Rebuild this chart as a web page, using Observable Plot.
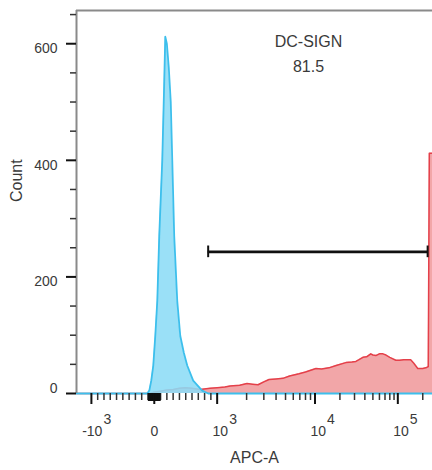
<!DOCTYPE html>
<html><head><meta charset="utf-8">
<script src="https://cdn.jsdelivr.net/npm/d3@7"></script>
<script src="https://cdn.jsdelivr.net/npm/@observablehq/plot@0.6"></script>
<style>html,body{margin:0;padding:0;background:#fff;overflow:hidden} #chart svg{display:block;font-family:"Liberation Sans",Arial,sans-serif}</style>
</head><body><div id="chart"></div>
<script>
// Control (isotype) histogram: APC-A value, count
const ctrlValue = [-1420, -111, -79, -48, -16, 16, 48, 79, 127, 155, 175, 200, 230, 262, 286, 317, 365, 413, 470, 524, 619, 762, 857, 262144];
const ctrlCount = [0, 0, 5, 22, 48, 99, 159, 270, 400, 520, 612, 600, 560, 500, 400, 270, 159, 99, 70, 48, 22, 5, 0, 0];
// DC-SIGN stained histogram
const sampleValue = [-1420, -63, -16, 95, 200, 302, 400, 492, 600, 730, 889, 1000, 1200, 1357, 1700, 2020, 2300, 2620, 3000, 3390, 4000, 4710, 5500, 6870, 8000, 10280, 12000, 14750, 18000, 23600, 28000, 31200, 34000, 37900, 42000, 47200, 50000, 54300, 60000, 66100, 72000, 80000, 94600, 105000, 118000, 130000, 143000, 156000, 174000, 200000, 218000, 233000, 240000, 262144];
const sampleCount = [0, 0, 2, 4, 6, 7, 9, 10, 9, 7, 9, 10, 11, 13, 14, 17, 16, 15, 20, 24, 25, 26, 30, 34, 37, 43, 42, 44, 48, 53, 54, 55, 58, 62, 63, 68, 66, 65, 68, 68, 66, 62, 57, 57, 58, 58, 58, 52, 43, 43, 44, 46, 412, 412];

const xMajorTicks = [-1000, 0, 1000, 10000, 100000];
const xTickBase = ["-10", "0", "10", "10", "10"];
const xTickExp = ["3", "", "3", "4", "5"];
const xMinorTicks = [-900, -800, -700, -600, -500, -400, -300, -200, -100,
  100, 200, 300, 400, 500, 600, 700, 800, 900,
  2000, 3000, 4000, 5000, 6000, 7000, 8000, 9000,
  20000, 30000, 40000, 50000, 60000, 70000, 80000, 90000, 200000];
const xNearZeroTicks = [-90, -80, -70, -60, -50, -40, -30, -20, -10, 10, 20, 30, 40, 50, 60, 70, 80, 90];
const yMajorTicks = [0, 200, 400, 600];
const yMinorTicks = [50, 100, 150, 250, 300, 350, 450, 500, 550, 650];
const xExtent = [-1420, 262144];
const yExtent = [0, 657];

const gateRange = [857, 229000];
const gateCount = 243;
const gateName = "DC-SIGN";
const gatePercent = "81.5";
const xLabel = "APC-A";
const yLabel = "Count";

// biexponential-style display transform (linear near zero, log beyond ±10^3)
function biex(v) {
  const a = Math.abs(v), s = Math.sign(v);
  let u;
  if (a <= 1000) u = a * 0.063;
  else if (a <= 10000) u = 63 + 98 * Math.log10(a / 1000);
  else u = 161 + 83 * Math.log10(a / 10000);
  return s * u;
}

const ctrl = ctrlValue.map((v, i) => ({v, c: ctrlCount[i]}));
const sample = sampleValue.map((v, i) => ({v, c: sampleCount[i]}));
const majors = xMajorTicks.map((v, i) => ({v, base: xTickBase[i], exp: xTickExp[i]}));
const txt = "#3a3a3a";

const chart = Plot.plot({
  width: 432,
  height: 470,
  marginLeft: 76,
  marginRight: 0,
  marginTop: 10,
  marginBottom: 77,
  style: {fontFamily: "'Liberation Sans', Arial, sans-serif", background: "#fff"},
  x: {type: "linear", domain: xExtent.map(biex)},
  y: {domain: yExtent},
  marks: [
    Plot.areaY(sample, {x: d => biex(d.v), y: "c", fill: "#f2a6a8"}),
    Plot.lineY(sample, {x: d => biex(d.v), y: "c", stroke: "#e4404a", strokeWidth: 1.5}),
    Plot.areaY(ctrl, {x: d => biex(d.v), y: "c", fill: "#8cdcf6", fillOpacity: 0.88}),
    Plot.lineY(ctrl, {x: d => biex(d.v), y: "c", stroke: "#3dbfec", strokeWidth: 1.8}),
    // gate
    Plot.ruleY([gateCount], {x1: biex(gateRange[0]), x2: biex(gateRange[1]), stroke: "#111", strokeWidth: 2.6}),
    Plot.ruleX(gateRange, {x: d => biex(d), y1: gateCount - 10, y2: gateCount + 10, stroke: "#111", strokeWidth: 2}),
    Plot.text([gateName], {frameAnchor: "top", dx: 54, dy: 25, fontSize: 16, fill: txt}),
    Plot.text([gatePercent], {frameAnchor: "top", dx: 54, dy: 50, fontSize: 16, fill: txt}),
    // frame lines
    Plot.ruleX([xExtent[0]], {x: d => biex(d), stroke: "#8a8a8a", strokeWidth: 2}),
    Plot.ruleY([yExtent[1]], {stroke: "#8a8a8a", strokeWidth: 2}),
    // y axis
    Plot.axisY(yMajorTicks, {label: null, tickSize: 10, tickFormat: () => "", stroke: "#111", strokeWidth: 2}),
    Plot.axisY(yMinorTicks, {label: null, tickSize: 6, tickFormat: () => "", stroke: "#333", strokeWidth: 1.5}),
    Plot.text(yMajorTicks.filter(d => d !== 0), {y: d => d, text: d => String(d), frameAnchor: "left", dx: -19, dy: 5, textAnchor: "end", fontSize: 14, fill: txt}),
    Plot.text(yMajorTicks.filter(d => d === 0), {y: d => d, text: d => String(d), frameAnchor: "left", dx: -19, dy: -5, textAnchor: "end", fontSize: 14, fill: txt}),
    // x axis
    Plot.axisX(xMajorTicks.map(biex), {label: null, tickSize: 11, tickFormat: () => "", stroke: "#111", strokeWidth: 2}),
    Plot.axisX(xMinorTicks.map(biex), {label: null, tickSize: 7, tickFormat: () => "", stroke: "#333", strokeWidth: 1.5}),
    Plot.axisX(xNearZeroTicks.map(biex), {label: null, tickSize: 8, tickFormat: () => "", stroke: "#111", strokeWidth: 1.5}),
    Plot.text(majors.filter(d => d.exp === ""), {x: d => biex(d.v), text: "base", frameAnchor: "bottom", dy: 42, fontSize: 14, fill: txt}),
    Plot.text(majors.filter(d => d.exp !== ""), {x: d => biex(d.v), text: "base", frameAnchor: "bottom", dy: 42, dx: 11, textAnchor: "end", fontSize: 14, fill: txt}),
    Plot.text(majors.filter(d => d.exp !== ""), {x: d => biex(d.v), text: "exp", frameAnchor: "bottom", dy: 30, dx: 12, textAnchor: "start", fontSize: 14, fill: txt}),
    // axis titles
    Plot.text([xLabel], {frameAnchor: "bottom", dy: 69, fontSize: 16, fill: txt}),
    Plot.text([yLabel], {frameAnchor: "left", dx: -60, rotate: -90, fontSize: 16, fill: txt})
  ]
});
document.getElementById("chart").appendChild(chart);
</script>
</body></html>
